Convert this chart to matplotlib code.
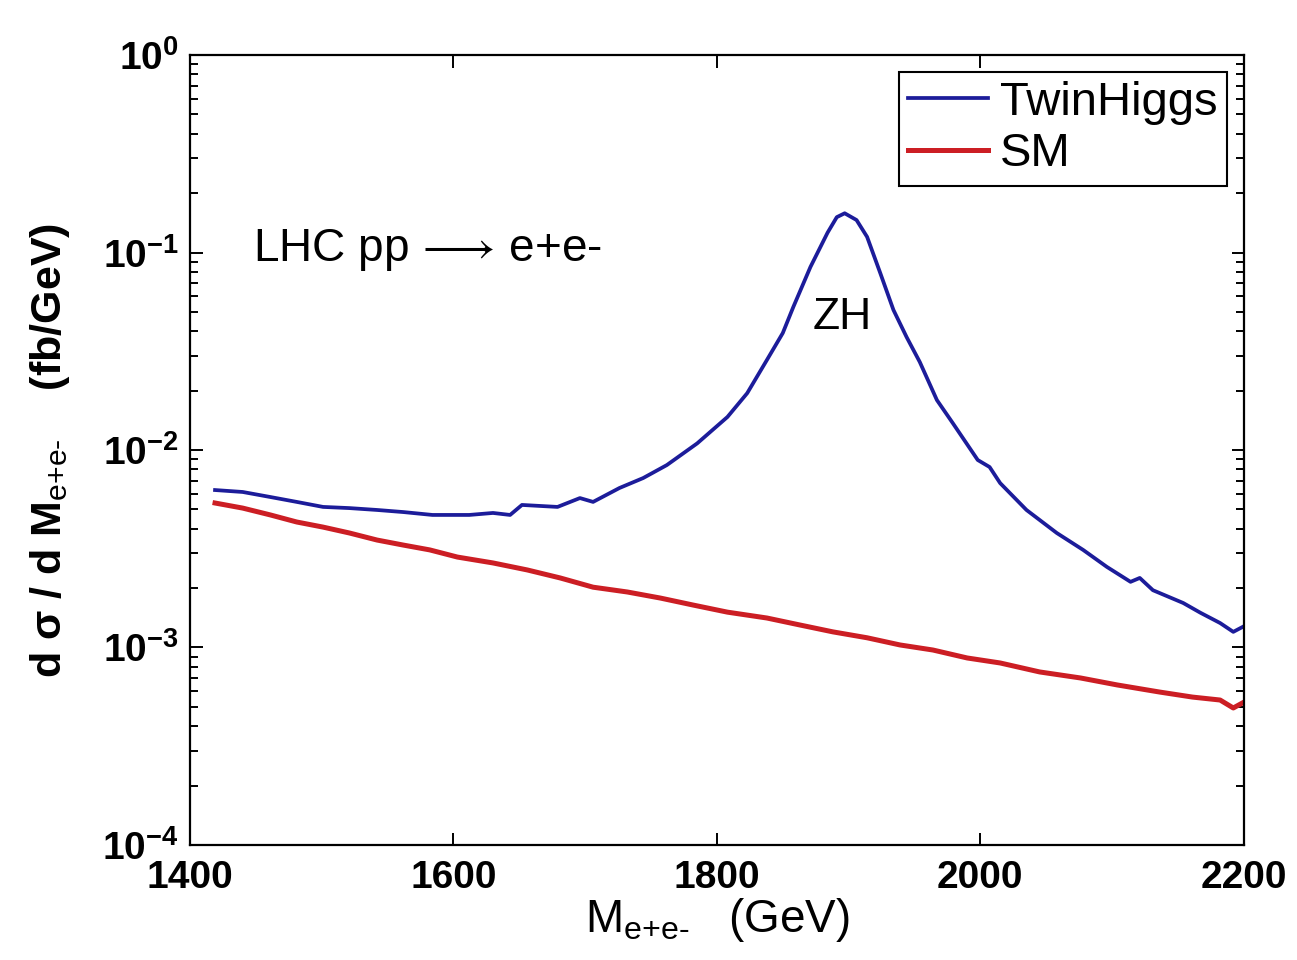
import numpy as np
import matplotlib
matplotlib.use("Agg")
from matplotlib import pyplot as plt
from matplotlib import ticker

plt.rcParams['font.family'] = ['Liberation Sans', 'DejaVu Sans']
plt.rcParams['mathtext.fontset'] = 'custom'
plt.rcParams['mathtext.rm'] = 'Liberation Sans'
plt.rcParams['mathtext.it'] = 'Liberation Sans'
plt.rcParams['mathtext.bf'] = 'Liberation Sans:bold'

# dilepton invariant mass (GeV) and d sigma / dM (fb/GeV)
mass_twin = [1419, 1440, 1461, 1481, 1501, 1521, 1542, 1562, 1584, 1612, 1630, 1643,
             1652, 1679, 1696, 1706, 1726, 1744, 1762, 1785, 1808, 1823, 1838, 1850,
             1858, 1871, 1884, 1891, 1897, 1906, 1914, 1924, 1934, 1944, 1954, 1967,
             1979, 1998, 2007, 2015, 2035, 2058, 2078, 2096, 2114, 2121, 2131, 2154,
             2167, 2182, 2192, 2199]
sigma_twin = [6.27e-3, 6.13e-3, 5.78e-3, 5.46e-3, 5.15e-3, 5.08e-3, 4.97e-3, 4.85e-3,
              4.69e-3, 4.69e-3, 4.80e-3, 4.69e-3, 5.27e-3, 5.15e-3, 5.71e-3, 5.46e-3,
              6.42e-3, 7.21e-3, 8.39e-3, 1.08e-2, 1.47e-2, 1.94e-2, 2.86e-2, 3.91e-2,
              5.30e-2, 8.45e-2, 0.126, 0.151, 0.158, 0.146, 0.120, 0.0787,
              0.0512, 0.0373, 0.0279, 0.0179, 0.0137, 8.9e-3, 8.2e-3, 6.8e-3,
              4.97e-3, 3.80e-3, 3.12e-3, 2.56e-3, 2.15e-3, 2.25e-3, 1.95e-3, 1.68e-3,
              1.50e-3, 1.33e-3, 1.20e-3, 1.27e-3]

mass_sm = [1419, 1440, 1461, 1481, 1501, 1521, 1542, 1562, 1582, 1603, 1630, 1656,
           1681, 1706, 1732, 1757, 1782, 1808, 1838, 1863, 1888, 1914, 1939, 1964,
           1990, 2015, 2045, 2076, 2104, 2136, 2161, 2182, 2192, 2199]
sigma_sm = [5.39e-3, 5.08e-3, 4.69e-3, 4.32e-3, 4.07e-3, 3.80e-3, 3.50e-3, 3.30e-3,
            3.12e-3, 2.87e-3, 2.68e-3, 2.47e-3, 2.25e-3, 2.02e-3, 1.91e-3, 1.78e-3,
            1.64e-3, 1.51e-3, 1.41e-3, 1.30e-3, 1.20e-3, 1.12e-3, 1.03e-3, 9.71e-4,
            8.85e-4, 8.35e-4, 7.52e-4, 7.01e-4, 6.46e-4, 5.95e-4, 5.61e-4, 5.42e-4,
            4.94e-4, 5.24e-4]

x_ticks = [1400, 1600, 1800, 2000, 2200]

fig = plt.figure(figsize=(12.97, 9.6), dpi=100)
ax = fig.add_axes([0.1465, 0.1198, 0.8125, 0.8229])

ax.plot(mass_twin, sigma_twin, color='#1c1c9a', lw=2.7, label='TwinHiggs')
ax.plot(mass_sm, sigma_sm, color='#cc1e24', lw=3.6, label='SM')

ax.set_yscale('log')
ax.set_xlim(1400, 2200)
ax.set_ylim(1e-4, 1)
ax.set_xticks(x_ticks)
ax.xaxis.set_minor_locator(ticker.NullLocator())
ax.yaxis.set_major_locator(ticker.LogLocator(base=10, numticks=10))
ax.yaxis.set_minor_locator(ticker.LogLocator(base=10, subs=np.arange(2, 10), numticks=10))
ax.yaxis.set_minor_formatter(ticker.NullFormatter())

ax.tick_params(which='both', direction='in', top=True, right=True, width=1.4)
ax.tick_params(which='major', length=9, labelsize=28)
ax.tick_params(axis='x', which='major', pad=11)
ax.tick_params(axis='y', which='major', pad=8)
ax.tick_params(which='minor', length=6)
for lab in ax.get_xticklabels() + ax.get_yticklabels():
    lab.set_fontweight('bold')
for sp in ax.spines.values():
    sp.set_linewidth(1.6)

ax.set_xlabel(r'M$_{\text{e+e-}}$   (GeV)', fontsize=33, labelpad=0)
ax.set_ylabel(r'd $\mathbf{\sigma}$ / d M$_{\text{e+e-}}$    (fb/GeV)', fontsize=31,
              fontweight='bold', labelpad=22)

ax.text(1448, 0.103, r'LHC pp $\!\longrightarrow\!$ e+e-', fontsize=33, va='center', ha='left')
ax.text(1895, 0.0466, 'ZH', fontsize=32, va='center', ha='center')

leg = ax.legend(loc='upper right', fontsize=34, fancybox=False, framealpha=1,
                edgecolor='black', handlelength=1.7, handletextpad=0.25,
                borderaxespad=0.35, labelspacing=0.15, borderpad=0.2)
leg.get_frame().set_linewidth(1.5)

fig.savefig('out.png', dpi=100)
